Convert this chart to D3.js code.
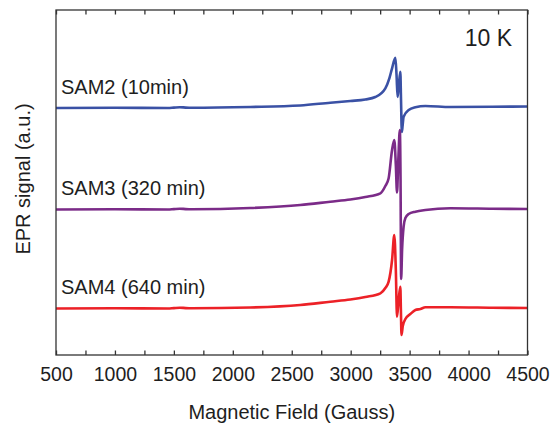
<!DOCTYPE html>
<html>
<head>
<meta charset="utf-8">
<script src="https://cdn.jsdelivr.net/npm/d3@7"></script>
<style>
	body { margin: 0; background: #fff; }
	svg text { font-family: "Liberation Sans", Arial, sans-serif; fill: #1e1e1e; }
</style>
</head>
<body>
<script>
// tick values along the field axis (Gauss)
const fieldTicks = [500, 1000, 1500, 2000, 2500, 3000, 3500, 4000, 4500];
const minorTicks = [750, 1250, 1750, 2250, 2750, 3250, 3750, 4250];

const sampleNames = ["SAM2 (10min)", "SAM3 (320 min)", "SAM4 (640 min)"];
const sampleOffsets = [2.47, 1.455, 0.465];

// SAM2 spectrum (field in G, signal relative to its baseline)
const fieldSam2 = [500, 1000, 1450, 1500, 1550, 1600, 1650, 2148, 2572, 2827, 2997, 3124, 3209, 3294, 3328, 3351, 3379, 3389, 3398, 3408, 3421, 3427, 3434, 3441, 3449, 3492, 3549, 3634, 3846, 4200, 4500];
const signalSam2 = [0, 0.002, 0, 0.004, 0.008, 0.004, 0.002, 0.01, 0.025, 0.053, 0.07, 0.085, 0.11, 0.197, 0.297, 0.397, 0.503, 0.33, 0.11, 0.22, 0.363, 0.08, -0.24, -0.17, -0.087, -0.02, 0.007, 0.02, 0.01, 0.012, 0.015];

// SAM3 spectrum
const fieldSam3 = [500, 1000, 1450, 1500, 1550, 1600, 1650, 2148, 2572, 2827, 2997, 3124, 3252, 3294, 3322, 3351, 3370, 3383, 3393, 3404, 3417, 3423, 3428, 3436, 3449, 3464, 3492, 3549, 3634, 3846, 4200, 4500];
const signalSam3 = [0, 0.002, 0, 0.004, 0.008, 0.004, 0.002, 0.015, 0.045, 0.078, 0.1, 0.125, 0.162, 0.235, 0.312, 0.595, 0.695, 0.445, 0.17, 0.495, 0.795, 0.295, -0.695, -0.405, -0.172, -0.085, -0.045, -0.022, -0.005, 0.012, 0.008, 0.005];

// SAM4 spectrum
const fieldSam4 = [500, 1000, 1450, 1500, 1550, 1600, 1650, 2148, 2572, 2827, 2997, 3124, 3252, 3294, 3322, 3351, 3370, 3383, 3393, 3407, 3421, 3426, 3431, 3442, 3464, 3506, 3549, 3591, 3634, 3846, 4200, 4500];
const signalSam4 = [0, 0.002, 0, 0.004, 0.008, 0.004, 0.002, 0.01, 0.035, 0.068, 0.09, 0.115, 0.152, 0.205, 0.268, 0.485, 0.735, 0.385, -0.082, 0.085, 0.218, -0.015, -0.265, -0.175, -0.105, -0.055, -0.015, -0.005, 0.012, 0.012, 0.008, 0.005];

const config = {
	width: 550,
	height: 423,
	left: 56,
	right: 527.5,
	top: 10,
	bottom: 355,
	colors: ["#3a51a5", "#7b2b88", "#ec2127"],
	axisColor: "#333"
};

const svg = d3.select("body")
	.append("svg")
	.attr("width", config.width)
	.attr("height", config.height);

const x = d3.scaleLinear().domain([500, 4500]).range([config.left, config.right]);
const y = d3.scaleLinear().domain([0, 3.45]).range([config.bottom, config.top]);

const spectra = [
	{ field: fieldSam2, signal: signalSam2 },
	{ field: fieldSam3, signal: signalSam3 },
	{ field: fieldSam4, signal: signalSam4 }
];

// curves
spectra.forEach((s, i) => {
	const pts = s.field.map((f, j) => [f, s.signal[j] + sampleOffsets[i]]);
	const line = d3.line()
		.x(d => x(d[0]))
		.y(d => y(d[1]))
		.curve(d3.curveMonotoneX);
	svg.append("path")
		.datum(pts)
		.attr("d", line)
		.attr("fill", "none")
		.attr("stroke", config.colors[i])
		.attr("stroke-width", 2.6)
		.attr("stroke-linejoin", "round");

	svg.append("text")
		.attr("x", 61)
		.attr("y", y(sampleOffsets[i] + 0.145))
		.attr("font-size", "20px")
		.text(sampleNames[i]);
});

// frame
svg.append("rect")
	.attr("x", config.left)
	.attr("y", config.top)
	.attr("width", config.right - config.left)
	.attr("height", config.bottom - config.top)
	.attr("fill", "none")
	.attr("stroke", config.axisColor)
	.attr("stroke-width", 1.3);

const allTicks = fieldTicks.concat(minorTicks).sort((a, b) => a - b);

const bottomAxis = svg.append("g")
	.attr("transform", `translate(0,${config.bottom})`)
	.call(d3.axisBottom(x)
		.tickValues(allTicks)
		.tickSize(-4.5)
		.tickPadding(12.5)
		.tickFormat(d => fieldTicks.includes(d) ? d : ""));

const topAxis = svg.append("g")
	.attr("transform", `translate(0,${config.top})`)
	.call(d3.axisTop(x)
		.tickValues(allTicks)
		.tickSize(-4.5)
		.tickFormat(""));

[bottomAxis, topAxis].forEach(g => {
	g.select(".domain").remove();
	g.selectAll(".tick line").attr("stroke", config.axisColor).attr("stroke-width", 1.3);
	g.selectAll(".tick text")
		.attr("font-size", "19.5px")
		.attr("font-family", "Liberation Sans, Arial, sans-serif")
		.attr("fill", "#1e1e1e");
});

// titles
svg.append("text")
	.attr("x", (config.left + config.right) / 2)
	.attr("y", 419)
	.attr("text-anchor", "middle")
	.attr("font-size", "20px")
	.text("Magnetic Field (Gauss)");

svg.append("text")
	.attr("transform", `translate(30,179) rotate(-90)`)
	.attr("text-anchor", "middle")
	.attr("font-size", "20px")
	.text("EPR signal (a.u.)");

svg.append("text")
	.attr("x", 512)
	.attr("y", 46)
	.attr("text-anchor", "end")
	.attr("font-size", "23px")
	.text("10 K");
</script>
</body>
</html>
